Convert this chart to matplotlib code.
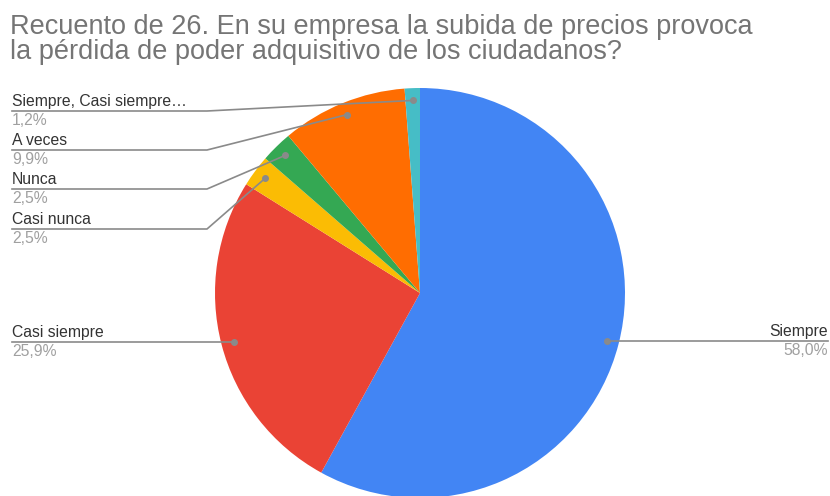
import numpy as np
import matplotlib.pyplot as plt

plt.rcParams['font.family'] = ['Liberation Sans', 'DejaVu Sans']

# Respuestas y porcentajes
labels = ["Siempre", "Casi siempre", "Casi nunca", "Nunca", "A veces", "Siempre, Casi siempre…"]
values = [58.0, 25.9, 2.5, 2.5, 9.9, 1.2]
value_text = ["58,0%", "25,9%", "2,5%", "2,5%", "9,9%", "1,2%"]
colors = ["#4285F4", "#EA4335", "#FBBC04", "#34A853", "#FF6D01", "#46BDC6"]

title = "Recuento de 26. En su empresa la subida de precios provoca\nla pérdida de poder adquisitivo de los ciudadanos?"

W, H = 830, 496
fig = plt.figure(figsize=(W / 100, H / 100), dpi=100)
ax = fig.add_axes([0, 0, 1, 1])


def py(y):
    # pixel row -> data y
    return H - y


cx, cy, r = 420, 293, 205
wedges, _ = ax.pie(values, colors=colors, startangle=90, counterclock=False,
                   center=(cx, py(cy)), radius=r,
                   wedgeprops=dict(linewidth=0), frame=True)
ax.set_xlim(0, W)
ax.set_ylim(0, H)
ax.set_aspect("equal")
ax.axis("off")

# rows of the label underlines for the left-hand stacked labels
line_rows = [None, None, 229, 189, 150, 111]
knee_x = 207
line_col = "#8a8a8a"
fs = 11.3

for i, w in enumerate(wedges):
    mid = np.deg2rad((w.theta1 + w.theta2) / 2)
    dx = cx + 0.94 * r * np.cos(mid)
    dy = py(cy) + 0.94 * r * np.sin(mid)
    if i == 0:
        ly = dy
        ax.plot([dx, 828], [dy, ly], color=line_col, lw=1.2, zorder=3)
        tx, ha = 828, "right"
    elif i == 1:
        ly = dy
        ax.plot([12, dx], [ly, dy], color=line_col, lw=1.2, zorder=3)
        tx, ha = 12, "left"
    else:
        ly = py(line_rows[i])
        ax.plot([12, knee_x, dx], [ly, ly, dy], color=line_col, lw=1.2, zorder=3)
        tx, ha = 12, "left"
    ax.text(tx, ly + 2, labels[i], ha=ha, va="bottom", fontsize=fs, color="#333333")
    ax.text(tx, ly - 2, value_text[i], ha=ha, va="top", fontsize=fs, color="#a0a0a0")
    ax.plot(dx, dy, "o", color=line_col, ms=4, zorder=4)

fig.text(10 / W, 1 - 14 / H, title, ha="left", va="top", fontsize=19.5,
         color="#757575", linespacing=0.95)

fig.savefig("out.png", dpi=100, facecolor="white")
